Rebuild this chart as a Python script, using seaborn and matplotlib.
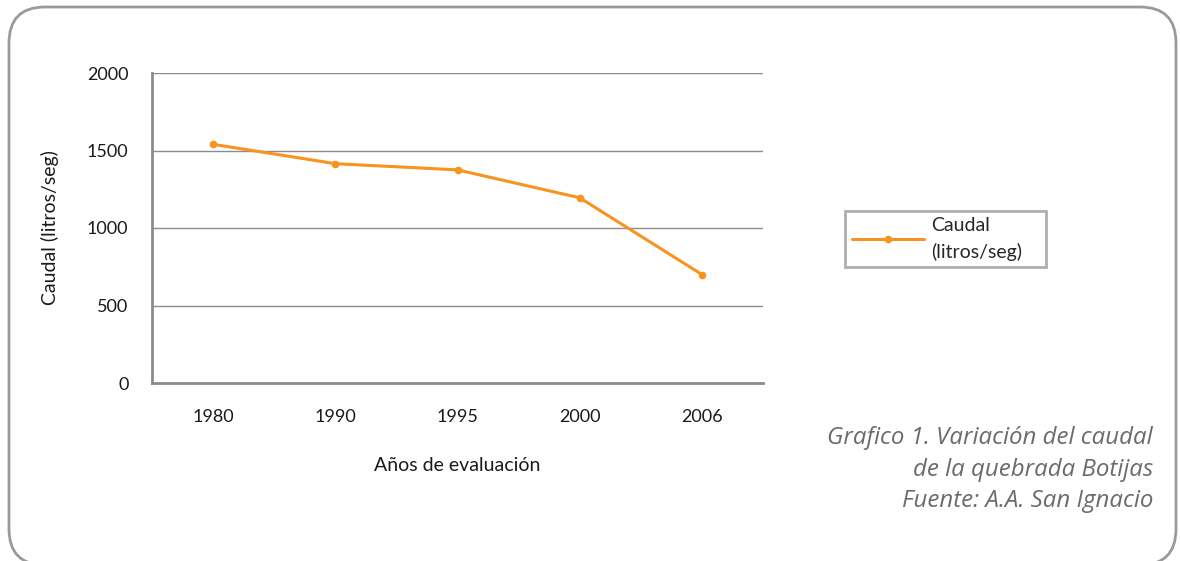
import matplotlib

matplotlib.use("Agg")
import matplotlib.pyplot as plt
from matplotlib.patches import FancyBboxPatch
import pandas as pd
import seaborn as sns

# data
years = ["1980", "1990", "1995", "2000", "2006"]
caudal = [1540, 1415, 1375, 1195, 700]
y_ticks = [0, 500, 1000, 1500, 2000]
series_name = "Caudal\n(litros/seg)"

ORANGE = "#F7931E"
GRID = "#8c8c8c"
TEXT = "#1a1a1a"

sns.set_theme(style="white")
plt.rcParams["font.family"] = ["Lato", "DejaVu Sans"]

df = pd.DataFrame({"year": years, "caudal": caudal})

fig = plt.figure(figsize=(11.8, 5.61), dpi=100)

# rounded frame around the whole graphic, drawn in pixel units
# (bottom edge runs just past the bottom of the picture)
bg = fig.add_axes([0, 0, 1, 1], zorder=-1)
bg.set_xlim(0, 1180)
bg.set_ylim(561, 0)
bg.axis("off")
bg.add_patch(FancyBboxPatch((9, 7), 1167, 558,
                            boxstyle="round,pad=0,rounding_size=36",
                            fc="white", ec="#9a9a9a", lw=2))

ax = fig.add_axes([152 / 1180, 1 - 383 / 561, (763 - 152) / 1180, 310 / 561])
ax.set_facecolor("none")
sns.lineplot(data=df, x="year", y="caudal", ax=ax, color=ORANGE, lw=2.2,
             marker="o", markersize=5.5, markeredgewidth=0, label=series_name,
             sort=False)

ax.set_ylim(0, 2000)
ax.set_xlim(-0.5, len(years) - 0.5)
ax.set_yticks(y_ticks)
ax.yaxis.grid(True, color=GRID, lw=1)
ax.set_axisbelow(True)

# categories sit between tick marks
ax.set_xticks(range(len(years)))
ax.set_xticklabels(years)
ax.set_xticks([i - 0.5 for i in range(len(years) + 1)], minor=True)
ax.tick_params(axis="x", which="major", length=0, pad=19, labelsize=13,
               labelcolor=TEXT)
ax.tick_params(axis="x", which="minor", length=8, width=2, color=GRID,
               direction="out")
ax.tick_params(axis="y", length=6, width=1, color=GRID, direction="out",
               pad=11, labelsize=13, labelcolor=TEXT)

for side in ["top", "right"]:
    ax.spines[side].set_visible(False)
ax.spines["left"].set_color(GRID)
ax.spines["left"].set_linewidth(2)
ax.spines["bottom"].set_color(GRID)
ax.spines["bottom"].set_linewidth(2)

ax.set_xlabel("Años de evaluación", fontsize=14, color=TEXT, labelpad=23)
ax.set_ylabel("Caudal (litros/seg)", fontsize=14, color=TEXT, labelpad=20)

leg = ax.legend(loc="center left",
                bbox_to_anchor=(845 / 1180, 1 - 272 / 561, 201 / 1180, 66 / 561),
                bbox_transform=fig.transFigure, mode="expand",
                frameon=True, fancybox=False, fontsize=14,
                handlelength=3.7, borderpad=0.35, borderaxespad=0,
                handletextpad=0.4, labelspacing=0.2)
for t in leg.get_texts():
    t.set_linespacing(1.55)
leg.get_frame().set_edgecolor("#9a9a9a")
leg.get_frame().set_linewidth(2)

caption = ("Grafico 1. Variación del caudal\n"
           "de la quebrada Botijas\n"
           "Fuente: A.A. San Ignacio")
fig.text(1153 / 1180, 1 - 426 / 561, caption, ha="right", va="top",
         fontsize=17.3, style="italic", color="#6b6b6b", linespacing=1.42,
         family=["Open Sans", "DejaVu Sans"])

fig.savefig("out.png", dpi=100)
